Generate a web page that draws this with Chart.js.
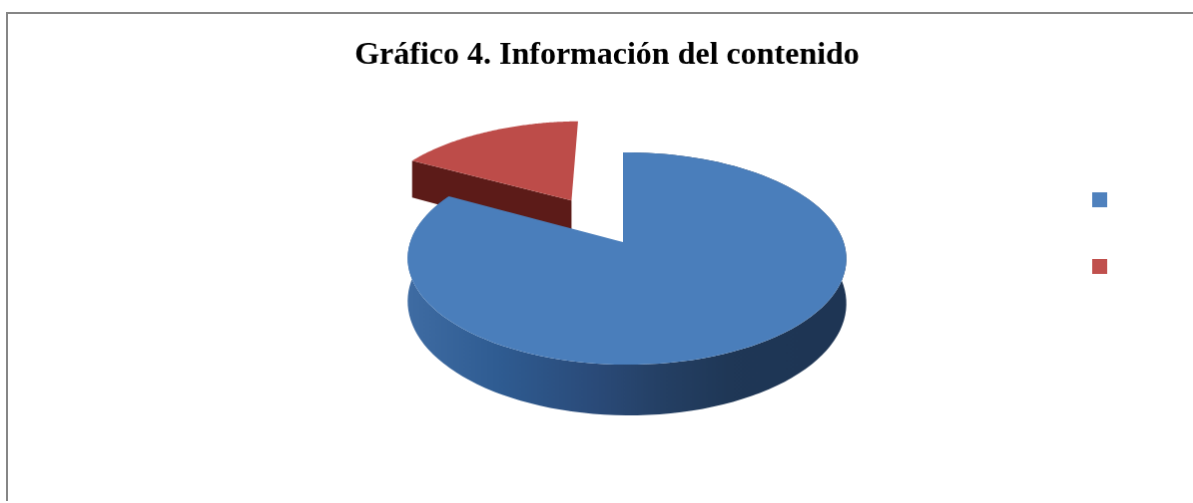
<!DOCTYPE html>
<html>
<head>
<meta charset="utf-8">
<script src="https://cdn.jsdelivr.net/npm/chart.js@4"></script>
<style>
    html, body { margin: 0; padding: 0; background: #fff; overflow: hidden; }
    #grafico {
        position: absolute;
        left: 6px;
        top: 12px;
        border-left: 2px solid #868686;
        border-top: 2px solid #868686;
    }
</style>
</head>
<body>
<canvas id="grafico" width="1198" height="489"></canvas>
<script>
// the legend of the reference shows only the colour boxes, its texts are blank
const categories = ['', ''];
const values = [83, 17];
const titleText = 'Gráfico 4. Información del contenido';

const faceColors = ['#4a7ebb', '#bd4c49'];
const legendColors = ['#4f81bd', '#c0504d'];

// tilted pie: the flat circle gets a perspective projection
const view = { x: 616, y: 229, a: 217, b: 104, depth: 43, p: 0.155, q: 0.018 };
const explode = [0, 0.5];

function project(u, v, z) {
    const w = 1 - view.p * v - view.q * u;
    return [view.x + view.a * u / w, view.y + (view.b * v + view.depth * z) / w];
}

// chart.js arc angles start at 3 o'clock and go clockwise
function rimPoints(arc, shift, z) {
    const pts = [];
    const steps = 120;
    for (let i = 0; i <= steps; i++) {
        const t = arc.startAngle + (arc.endAngle - arc.startAngle) * i / steps;
        pts.push(project(Math.cos(t) + shift[0], Math.sin(t) + shift[1], z));
    }
    return pts;
}

function fillPath(ctx, pts, color) {
    ctx.beginPath();
    pts.forEach((p, i) => i ? ctx.lineTo(p[0], p[1]) : ctx.moveTo(p[0], p[1]));
    ctx.closePath();
    ctx.fillStyle = color;
    ctx.fill();
}

const pie3d = {
    id: 'pie3d',
    beforeDatasetDraw(chart, args) {
        const ctx = chart.ctx;
        const arcs = chart.getDatasetMeta(args.index).data;

        // small exploded slice goes first, the big one covers its wall
        [1, 0].forEach(idx => {
            const arc = arcs[idx];
            const mid = (arc.startAngle + arc.endAngle) / 2;
            const shift = [Math.cos(mid) * explode[idx], Math.sin(mid) * explode[idx]];
            const top = rimPoints(arc, shift, 0);
            const bottom = rimPoints(arc, shift, 1);
            const apex = project(shift[0], shift[1], 0);
            const apexLow = project(shift[0], shift[1], 1);

            if (idx === 1) {
                // wall along the front edge of the slice
                fillPath(ctx, [apex, top[0], bottom[0], apexLow], '#5c1b18');
            } else {
                const grad = ctx.createLinearGradient(view.x - view.a, 0, view.x + view.a, 0);
                grad.addColorStop(0, '#3f6ca3');
                grad.addColorStop(0.21, '#2f5c92');
                grad.addColorStop(0.44, '#2a4a78');
                grad.addColorStop(0.6, '#243f63');
                grad.addColorStop(0.75, '#1f3756');
                grad.addColorStop(1, '#1e3554');
                fillPath(ctx, top.concat(bottom.slice().reverse()), grad);
            }
            fillPath(ctx, [apex].concat(top), faceColors[idx]);
        });
        return false;
    }
};

new Chart(document.getElementById('grafico'), {
    type: 'pie',
    data: {
        labels: categories,
        datasets: [{
            data: values,
            backgroundColor: legendColors,
            borderWidth: 0
        }]
    },
    options: {
        responsive: false,
        animation: false,
        layout: { padding: { left: 83, right: 81, bottom: 49 } },
        plugins: {
            title: {
                display: true,
                text: titleText,
                color: '#000',
                font: { family: 'Liberation Serif', size: 32, weight: 'bold' },
                padding: { top: 23, bottom: 18.4 }
            },
            legend: {
                position: 'right',
                labels: { boxWidth: 15, boxHeight: 15, padding: 52, font: { size: 12 } }
            },
            tooltip: { enabled: false }
        }
    },
    plugins: [pie3d]
});
</script>
</body>
</html>
